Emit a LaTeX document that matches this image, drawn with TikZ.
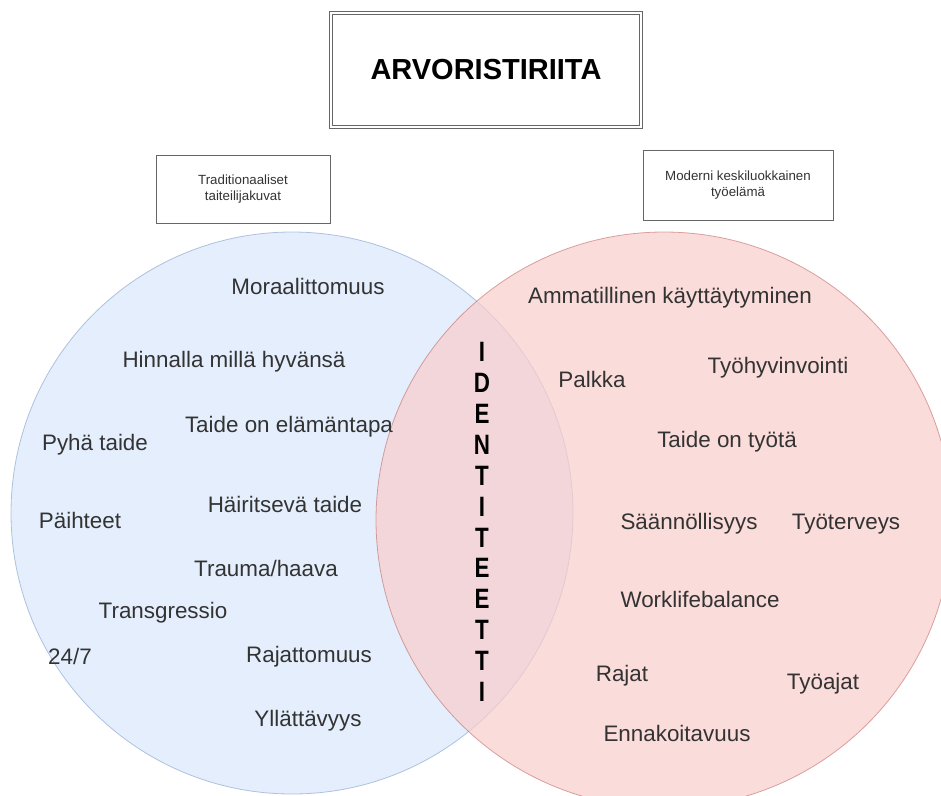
\documentclass[tikz,border=0pt]{standalone}
\usepackage{fontspec}
\setmainfont{Liberation Sans}
\usepackage{graphicx}
\usepackage{xcolor}
\usepackage{tikz}

\definecolor{tradfill}{HTML}{DAE8FC}
\definecolor{tradline}{HTML}{6C8EBF}
\definecolor{modfill}{HTML}{F8CECC}
\definecolor{modline}{HTML}{B85450}
\definecolor{txtgray}{HTML}{333333}

\begin{document}
\begin{tikzpicture}[x=1pt, y=-1pt,
    item/.style={text=txtgray, anchor=base, inner sep=0pt, font=\fontsize{22.4}{26}\selectfont},
    headbox/.style={draw=black!60, line width=0.7pt, fill=white, align=center, text=txtgray,
        inner sep=0pt, font=\fontsize{13.3}{16.5}\selectfont},
    letter/.style={inner sep=0pt, font=\bfseries\fontsize{28}{28}\selectfont}]
    \useasboundingbox (0,0) rectangle (941,795);
    \clip (0,0) rectangle (941,795);

    % Venn circles
    \node[circle, minimum size=562pt, inner sep=0pt, fill=tradfill, fill opacity=0.72,
        draw=tradline, draw opacity=0.5, line width=0.8pt] (trad) at (292,513) {};
    \node[circle, minimum size=576pt, inner sep=0pt, fill=modfill, fill opacity=0.72,
        draw=modline, draw opacity=0.5, line width=0.8pt] (modern) at (664,520) {};

    % Title
    \node[draw=black!60, double=white, double distance=1.3pt, line width=1pt,
        minimum width=310pt, minimum height=114pt, inner sep=0pt,
        font=\bfseries\fontsize{29}{34}\selectfont] (title) at (486,70) {ARVORISTIRIITA};

    % Headers of the two sets
    \node[headbox, minimum width=174pt, minimum height=68pt] (tradhead) at (243,189)
        {Traditionaaliset\\taiteilijakuvat};
    \node[headbox, minimum width=190pt, minimum height=70pt] (modhead) at (738,185)
        {Moderni keskiluokkainen\\työelämä};

    % Traditional values
    \node[item] (moraal) at (308,294) {Moraalittomuus};
    \node[item] (hinta) at (234,367) {Hinnalla millä hyvänsä};
    \node[item] (elama) at (289,432) {Taide on elämäntapa};
    \node[item] (pyha) at (95,450) {Pyhä taide};
    \node[item] (hairit) at (285,512) {Häiritsevä taide};
    \node[item] (paiht) at (80,528) {Päihteet};
    \node[item] (trauma) at (266,576) {Trauma/haava};
    \node[item] (transg) at (163,618) {Transgressio};
    \node[item] (aina) at (70,664) {24/7};
    \node[item] (rajaton) at (309,662) {Rajattomuus};
    \node[item] (yllat) at (308,726) {Yllättävyys};

    % Modern working life values
    \node[item] (ammat) at (670,303) {Ammatillinen käyttäytyminen};
    \node[item] (palkka) at (592,387) {Palkka};
    \node[item] (hyvin) at (778,373) {Työhyvinvointi};
    \node[item] (tyota) at (727,447) {Taide on työtä};
    \node[item] (saann) at (689,529) {Säännöllisyys};
    \node[item] (terve) at (846,529) {Työterveys};
    \node[item] (balance) at (700,607) {Worklifebalance};
    \node[item] (rajat) at (622,681) {Rajat};
    \node[item] (ajat) at (823,689) {Työajat};
    \node[item] (ennak) at (677,741) {Ennakoitavuus};

    % Overlap word, one letter per line
    \foreach \ch [count=\i] in {I,D,E,N,T,I,T,E,E,T,T,I} {
        \node[letter] (id\i) at (482, {352+30.9*(\i-1)}) {\scalebox{0.8}[1]{\ch}};
    }
\end{tikzpicture}
\end{document}
